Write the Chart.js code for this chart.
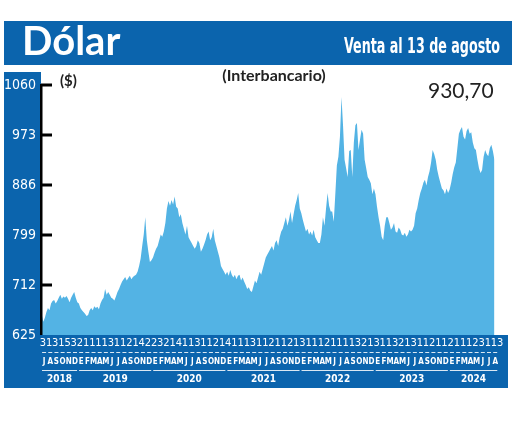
<!DOCTYPE html>
<html>
<head>
<meta charset="utf-8">
<script src="https://cdn.jsdelivr.net/npm/chart.js@4.4.1/dist/chart.umd.min.js"></script>
<style>
  html, body { margin: 0; padding: 0; background: #fff; }
  canvas { display: block; }
</style>
</head>
<body>
<canvas id="dolarChart" width="520" height="423"></canvas>
<script>
// ===================== Datos (4 valores por mes) =====================
const v2018 = [
  660, 648, 655, 665,  672, 668, 680, 684,  686, 680, 684, 690,
  695, 688, 692, 690,  693, 688, 682, 690,  695, 700, 690, 682
];
const v2019 = [
  680, 672, 668, 665,  662, 658, 660, 668,  672, 668, 675, 672,
  674, 670, 680, 686,  690, 705, 695, 700,  695, 690, 688, 685,
  692, 700, 705, 712,  718, 722, 726, 720,  724, 728, 722, 726,
  728, 730, 735, 745,  758, 780, 800, 830,  790, 770, 752, 755
];
const v2020 = [
  760, 768, 775, 780,  790, 800, 796, 805,  820, 845, 858, 850,
  860, 852, 866, 848,  845, 830, 835, 820,  810, 800, 815, 795,
  790, 785, 780, 775,  780, 790, 785, 770,  775, 782, 790, 800,
  805, 790, 795, 810,  790, 780, 770, 760,  745, 740, 735, 730
];
const v2021 = [
  735, 728, 738, 730,  725, 730, 722, 728,  730, 720, 725, 718,
  712, 705, 708, 702,  700, 710, 720, 715,  725, 735, 730, 740,
  750, 760, 765, 770,  775, 780, 772, 785,  790, 780, 795, 805,
  810, 820, 830, 815,  825, 840, 820, 835,  850, 860, 872, 845
];
const v2022 = [
  837, 825, 815, 805,  810, 800, 805, 798,  808, 795, 790, 785,
  785, 800, 830, 815,  845, 872, 850, 840,  840, 822, 870, 920,
  935, 970, 1039, 990, 930, 915, 900, 945,  947, 900, 960, 990,
  994, 947, 965, 982,  975, 930, 915, 900,  895, 889, 870, 880
];
const v2023 = [
  870, 848, 830, 815,  796, 790, 815, 830,  830, 820, 808, 812,
  820, 805, 803, 812,  808, 800, 798, 803,  796, 800, 808, 805,
  808, 815, 837, 845,  860, 872, 880, 890,  895, 885, 900, 910,
  925, 947, 940, 930,  912, 900, 890, 880,  877, 870, 880, 872
];
const v2024 = [
  878, 890, 905, 917,  925, 950, 975, 982,  987, 970, 965, 980,
  985, 975, 978, 960,  950, 947, 930, 915,  907, 912, 935, 947,
  940, 936, 950, 956,  945, 930
];

const anios = ['2018', '2019', '2020', '2021', '2022', '2023', '2024'];
const mesesPorAnio = [6, 12, 12, 12, 12, 12, 8];
const letrasMes = ['E', 'F', 'M', 'A', 'M', 'J', 'J', 'A', 'S', 'O', 'N', 'D'];
const digitos = [
  '3','1','3','1','5','3','2','1','1','1','1','3','1','1','2','1','4','2','2','3','2','1','4',
  '1','1','3','1','1','2','1','4','1','1','1','3',
  '1','1','2','1','1','2','1','3','1','1','1','2','1','1','1','1','3','2',
  '1','3','1','1','3','2','1','3','1','1','2','1','1','2','1','1','1','2','3','1','1','3'
];
const ticksY = [625, 712, 799, 886, 973, 1060];
const ultimoValor = '930,70';

// ===================== Armado de series =====================
const series = [v2018, v2019, v2020, v2021, v2022, v2023, v2024];
const meses = [];
const puntos = [];
let mesInicio = 0;
series.forEach((vals, a) => {
  const primerMes = a === 0 ? 6 : 0;
  for (let k = 0; k < mesesPorAnio[a]; k++) meses.push(letrasMes[primerMes + k]);
  vals.forEach((v, j) => {
    const mes = mesInicio + Math.floor(j / 4);
    puntos.push({ x: mes + ((j % 4) + 0.5) / 4, y: v });
  });
  mesInicio += mesesPorAnio[a];
});

const AZUL = '#0b64ad';
const CELESTE = '#53b3e4';
const NARROW = "'DejaVu Sans Condensed', 'Liberation Sans Narrow', sans-serif";

// ===================== Plugins de dibujo =====================
const fondo = {
  id: 'fondo',
  beforeDraw(chart) {
    const ctx = chart.ctx;
    ctx.save();
    ctx.fillStyle = '#fff';
    ctx.fillRect(0, 0, chart.width, chart.height);
    ctx.fillStyle = AZUL;
    ctx.fillRect(4, 21, 508, 44);           // cabecera
    ctx.fillRect(4, 72, 37, 316);           // panel izquierdo
    ctx.fillRect(4, chart.chartArea.bottom, 504, 388 - chart.chartArea.bottom); // banda inferior

    ctx.fillStyle = '#fff';
    ctx.textBaseline = 'alphabetic';
    ctx.textAlign = 'left';
    ctx.font = "bold 40px Lato, sans-serif";
    ctx.fillText('Dólar', 22, 55);
    ctx.textAlign = 'right';
    ctx.font = "bold 22px " + NARROW;
    ctx.fillText('Venta al 13 de agosto', 500, 53, 156);

    ctx.fillStyle = '#222';
    ctx.textAlign = 'center';
    ctx.font = "bold 16px Lato, sans-serif";
    ctx.fillText('(Interbancario)', 274, 81);
    ctx.textAlign = 'left';
    ctx.font = "bold 15px Lato, sans-serif";
    ctx.fillText('($)', 60, 86);
    ctx.font = "21px Lato, sans-serif";
    ctx.fillText(ultimoValor, 428, 98);
    ctx.restore();
  }
};

const extras = {
  id: 'extras',
  afterDraw(chart) {
    const ctx = chart.ctx;
    const x = chart.scales.x;
    const y = chart.scales.y;
    const area = chart.chartArea;
    ctx.save();

    // eje y y marcas hacia adentro
    ctx.fillStyle = '#000';
    ctx.fillRect(area.left - 1, area.top - 1, 2.5, area.bottom - area.top + 1);
    ticksY.slice(1).forEach(v => {
      const py = y.getPixelForValue(v);
      ctx.fillRect(area.left, py - 1.5, 11, 3);
    });

    // fila de dígitos
    ctx.fillStyle = '#fff';
    ctx.textAlign = 'center';
    ctx.textBaseline = 'middle';
    ctx.font = "11px " + NARROW;
    digitos.forEach((d, k) => {
      ctx.fillText(d, x.getPixelForValue(k + 0.3), area.bottom + 8);
    });

    // guiones por mes
    ctx.strokeStyle = 'rgba(255,255,255,0.85)';
    ctx.lineWidth = 1;
    meses.forEach((m, i) => {
      const px = x.getPixelForValue(i + 0.5);
      ctx.beginPath();
      ctx.moveTo(px - 2, area.bottom + 17.5);
      ctx.lineTo(px + 2, area.bottom + 17.5);
      ctx.stroke();
    });

    // años
    ctx.font = "bold 10px " + NARROW;
    let inicio = 0;
    anios.forEach((a, k) => {
      const fin = inicio + mesesPorAnio[k];
      const x1 = x.getPixelForValue(inicio) + 1;
      const x2 = x.getPixelForValue(fin) - 1;
      ctx.beginPath();
      ctx.moveTo(x1, area.bottom + 35.5);
      ctx.lineTo(x2, area.bottom + 35.5);
      ctx.stroke();
      ctx.fillText(a, (x1 + x2) / 2, area.bottom + 44);
      inicio = fin;
    });
    ctx.restore();
  }
};

// ===================== Gráfico =====================
new Chart(document.getElementById('dolarChart'), {
  type: 'line',
  data: {
    datasets: [{
      data: puntos,
      borderWidth: 0,
      pointRadius: 0,
      fill: 'start',
      backgroundColor: CELESTE,
      tension: 0
    }]
  },
  options: {
    responsive: false,
    animation: false,
    devicePixelRatio: 1,
    layout: { padding: { top: 85, right: 15, bottom: 20, left: 0 } },
    plugins: {
      legend: { display: false },
      tooltip: { enabled: false }
    },
    scales: {
      x: {
        type: 'linear',
        min: 0,
        max: 73.6,
        grid: { display: false, drawTicks: false },
        border: { display: false },
        afterBuildTicks: axis => { axis.ticks = meses.map((m, i) => ({ value: i + 0.5 })); },
        afterFit: axis => { axis.height = 68; },
        ticks: {
          autoSkip: false,
          maxRotation: 0,
          minRotation: 0,
          padding: 22,
          color: '#fff',
          font: { family: NARROW, size: 8, weight: 'bold' },
          callback: (v, i) => meses[i]
        }
      },
      y: {
        min: 625,
        max: 1060,
        grid: { display: false, drawTicks: false },
        border: { display: false },
        afterFit: axis => { axis.width = 41; },
        ticks: {
          stepSize: 87,
          padding: 5,
          color: '#fff',
          font: { family: NARROW, size: 14 },
          callback: v => String(v)
        }
      }
    }
  },
  plugins: [fondo, extras]
});
</script>
</body>
</html>
